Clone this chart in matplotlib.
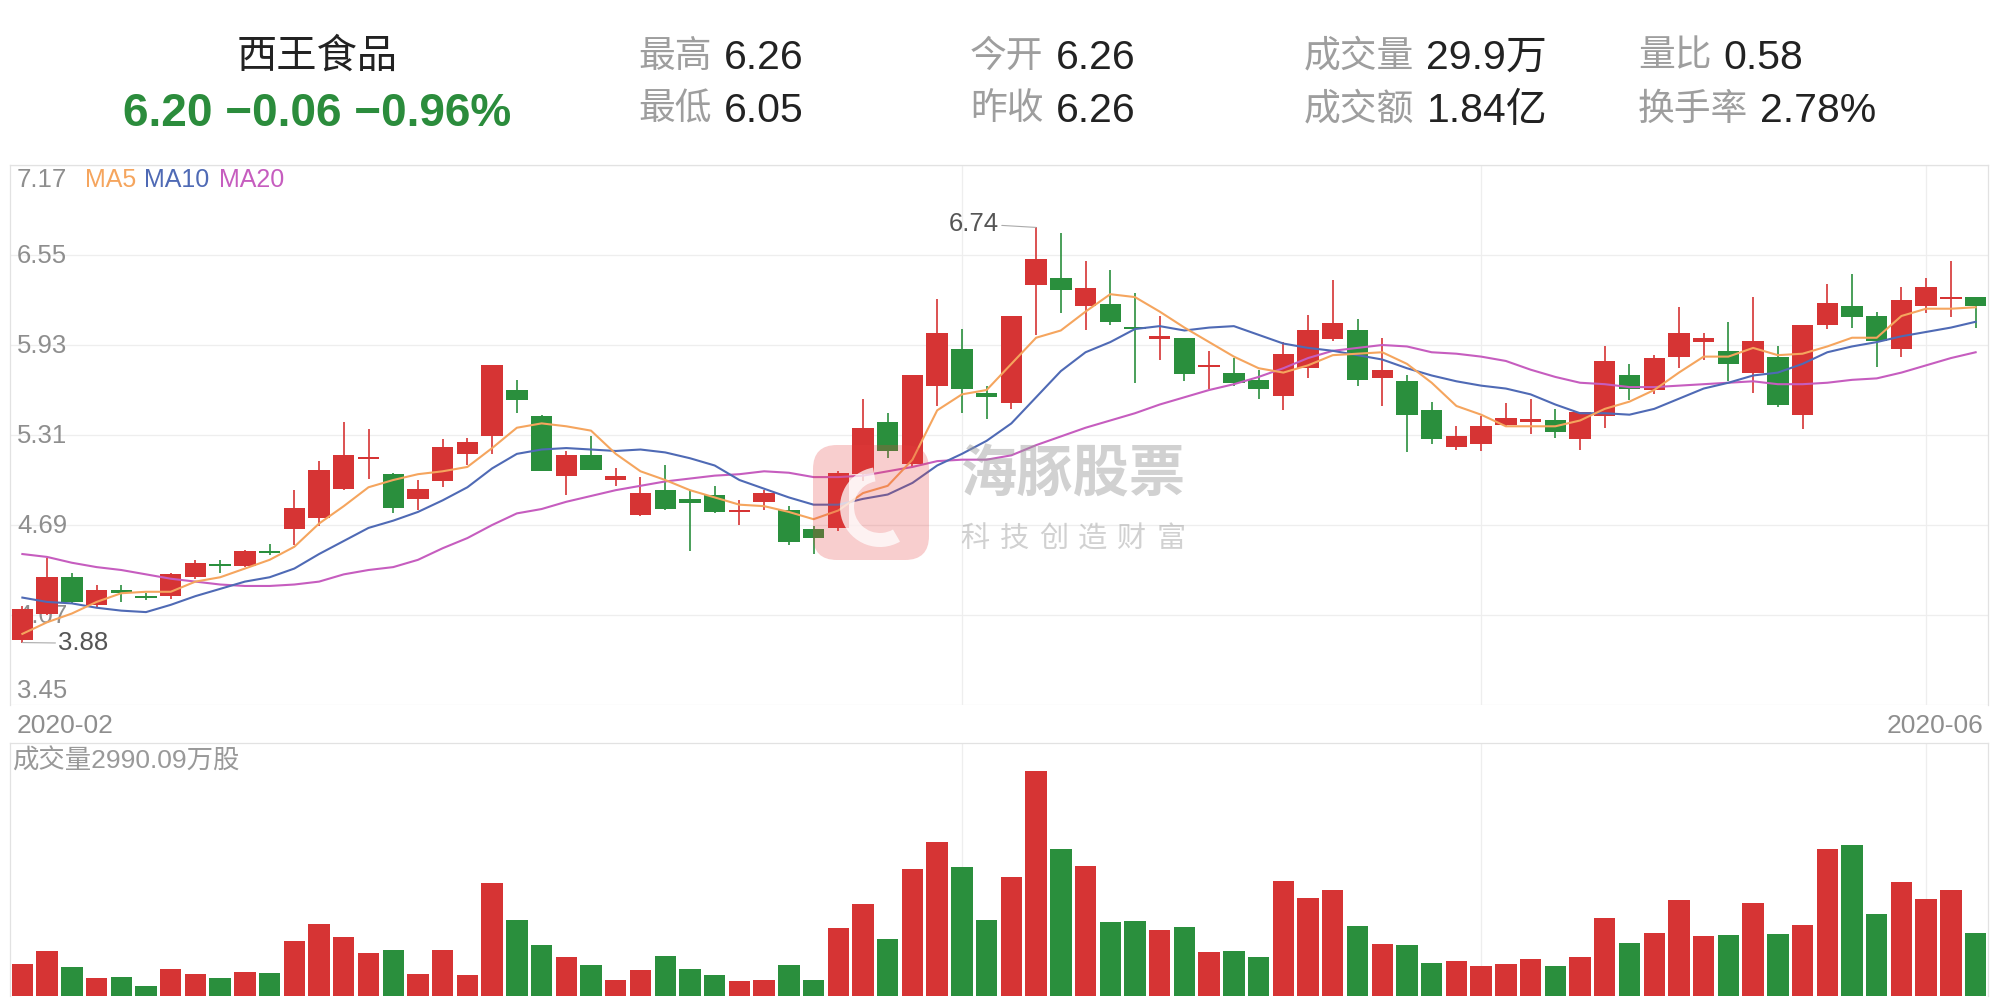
import numpy as np
import matplotlib.pyplot as plt
from matplotlib.patches import FancyBboxPatch, Wedge

plt.rcParams['font.family'] = ['Liberation Sans', 'Noto Sans CJK SC']

# daily candles, 2020-02 .. 2020-06
opens = [3.90, 4.08, 4.33, 4.14, 4.24, 4.20, 4.20, 4.33, 4.42, 4.41,
         4.51, 4.66, 4.74, 4.94, 5.145, 5.04, 4.87, 4.99, 5.18, 5.30,
         5.62, 5.44, 5.03, 5.17, 5.00, 4.76, 4.93, 4.87, 4.90, 4.78,
         4.85, 4.79, 4.66, 4.67, 5.04, 5.40, 5.11, 5.65, 5.90, 5.60,
         5.53, 6.34, 6.39, 6.20, 6.21, 6.05, 5.97, 5.98, 5.78, 5.74,
         5.69, 5.58, 5.77, 5.97, 6.03, 5.70, 5.68, 5.48, 5.23, 5.25,
         5.38, 5.40, 5.41, 5.28, 5.44, 5.72, 5.62, 5.85, 5.95, 5.89,
         5.74, 5.85, 5.45, 6.07, 6.20, 6.13, 5.90, 6.20, 6.25, 6.26]
highs = [4.13, 4.46, 4.36, 4.28, 4.28, 4.22, 4.36, 4.45, 4.45, 4.52,
         4.56, 4.93, 5.13, 5.40, 5.35, 5.05, 5.00, 5.28, 5.29, 5.79,
         5.69, 5.45, 5.20, 5.30, 5.08, 5.02, 5.10, 4.93, 4.96, 4.86,
         4.93, 4.82, 4.68, 5.06, 5.56, 5.46, 5.72, 6.25, 6.04, 5.65,
         6.13, 6.74, 6.70, 6.51, 6.45, 6.29, 6.13, 5.98, 5.89, 5.84,
         5.76, 5.95, 6.14, 6.38, 6.11, 5.98, 5.72, 5.54, 5.37, 5.44,
         5.53, 5.56, 5.49, 5.47, 5.92, 5.80, 5.86, 6.19, 6.01, 6.09,
         6.26, 5.92, 6.07, 6.35, 6.42, 6.16, 6.33, 6.39, 6.51, 6.26]
lows = [3.88, 4.07, 4.15, 4.12, 4.16, 4.17, 4.18, 4.32, 4.36, 4.40,
        4.48, 4.55, 4.68, 4.93, 5.01, 4.77, 4.79, 4.95, 5.10, 5.18,
        5.46, 5.06, 4.90, 5.07, 4.96, 4.75, 4.79, 4.51, 4.77, 4.69,
        4.79, 4.55, 4.49, 4.65, 4.99, 5.15, 5.09, 5.51, 5.46, 5.42,
        5.49, 6.00, 6.15, 6.03, 6.07, 5.67, 5.83, 5.68, 5.63, 5.65,
        5.56, 5.48, 5.70, 5.96, 5.65, 5.51, 5.19, 5.25, 5.21, 5.20,
        5.37, 5.32, 5.29, 5.21, 5.36, 5.55, 5.59, 5.77, 5.83, 5.68,
        5.60, 5.50, 5.35, 6.04, 6.05, 5.78, 5.85, 6.15, 6.12, 6.05]
closes = [4.11, 4.33, 4.16, 4.24, 4.22, 4.19, 4.35, 4.43, 4.41, 4.51,
          4.50, 4.81, 5.07, 5.17, 5.155, 4.81, 4.94, 5.23, 5.26, 5.79,
          5.55, 5.06, 5.17, 5.07, 5.03, 4.91, 4.80, 4.84, 4.78, 4.79,
          4.91, 4.57, 4.60, 5.05, 5.36, 5.20, 5.72, 6.01, 5.63, 5.57,
          6.13, 6.52, 6.31, 6.32, 6.09, 6.04, 5.99, 5.73, 5.79, 5.67,
          5.63, 5.87, 6.03, 6.08, 5.69, 5.76, 5.45, 5.28, 5.30, 5.37,
          5.43, 5.42, 5.33, 5.47, 5.82, 5.63, 5.84, 6.01, 5.98, 5.80,
          5.96, 5.52, 6.07, 6.22, 6.12, 5.96, 6.24, 6.33, 6.26, 6.20]

ma5 = [3.94, 4.02, 4.08, 4.16, 4.22, 4.23, 4.23, 4.30, 4.33, 4.39,
       4.45, 4.54, 4.70, 4.82, 4.95, 5.00, 5.04, 5.06, 5.09, 5.22,
       5.36, 5.39, 5.37, 5.34, 5.18, 5.06, 5.00, 4.93, 4.88, 4.83,
       4.82, 4.78, 4.73, 4.79, 4.91, 4.96, 5.14, 5.48, 5.59, 5.62,
       5.80, 5.98, 6.03, 6.16, 6.28, 6.26, 6.16, 6.05, 5.95, 5.85,
       5.77, 5.74, 5.79, 5.86, 5.87, 5.88, 5.80, 5.67, 5.51, 5.45,
       5.37, 5.37, 5.37, 5.41, 5.49, 5.54, 5.62, 5.74, 5.85, 5.85,
       5.91, 5.86, 5.87, 5.92, 5.98, 5.98, 6.13, 6.18, 6.18, 6.19]
ma10 = [4.19, 4.16, 4.15, 4.12, 4.10, 4.09, 4.14, 4.20, 4.25, 4.30,
        4.33, 4.39, 4.49, 4.58, 4.67, 4.72, 4.78, 4.86, 4.95, 5.08,
        5.18, 5.21, 5.22, 5.21, 5.20, 5.21, 5.19, 5.15, 5.10, 5.00,
        4.94, 4.88, 4.83, 4.83, 4.87, 4.90, 4.98, 5.10, 5.18, 5.27,
        5.39, 5.57, 5.75, 5.88, 5.95, 6.04, 6.06, 6.03, 6.05, 6.06,
        6.00, 5.94, 5.91, 5.89, 5.86, 5.83, 5.77, 5.72, 5.68, 5.65,
        5.63, 5.59, 5.52, 5.46, 5.46, 5.45, 5.49, 5.56, 5.63, 5.67,
        5.72, 5.74, 5.80, 5.88, 5.92, 5.95, 5.99, 6.02, 6.05, 6.09]
ma20 = [4.49, 4.47, 4.43, 4.40, 4.38, 4.35, 4.32, 4.30, 4.28, 4.27,
        4.27, 4.28, 4.30, 4.35, 4.38, 4.40, 4.45, 4.53, 4.60, 4.69,
        4.77, 4.80, 4.85, 4.89, 4.93, 4.96, 4.99, 5.01, 5.03, 5.04,
        5.06, 5.05, 5.02, 5.02, 5.03, 5.06, 5.09, 5.13, 5.14, 5.14,
        5.17, 5.24, 5.30, 5.36, 5.41, 5.46, 5.52, 5.57, 5.62, 5.66,
        5.71, 5.77, 5.84, 5.89, 5.91, 5.93, 5.92, 5.88, 5.87, 5.85,
        5.82, 5.76, 5.71, 5.67, 5.66, 5.64, 5.64, 5.65, 5.66, 5.67,
        5.68, 5.66, 5.66, 5.67, 5.69, 5.70, 5.74, 5.79, 5.84, 5.88]

# volume in 万股
volumes = [1512, 2146, 1383, 858, 906, 477, 1302, 1063, 873, 1145,
           1097, 2623, 3448, 2814, 2065, 2194, 1063, 2194, 1016, 5389,
           3624, 2432, 1860, 1478, 763, 1240, 1908, 1302, 1001, 715,
           763, 1478, 763, 3243, 4402, 2718, 6057, 7344, 6152, 3624,
           5675, 10730, 7010, 6200, 3529, 3577, 3148, 3291, 2098, 2146,
           1860, 5484, 4674, 5055, 3338, 2480, 2432, 1574, 1669, 1431,
           1526, 1765, 1431, 1860, 3720, 2528, 3004, 4578, 2861, 2909,
           4435, 2957, 3386, 7010, 7201, 3911, 5437, 4626, 5055, 2990.09]

price_ticks = [3.45, 4.07, 4.69, 5.31, 5.93, 6.55, 7.17]
month_starts = [38, 59, 77]
date_first, date_last = '2020-02', '2020-06'

stock_name = '西王食品'
quote_line = '6.20 \u22120.06 \u22120.96%'
quote_labels = [['最高', '最低'], ['今开', '昨收'], ['成交量', '成交额'], ['量比', '换手率']]
quote_values = [['6.26', '6.05'], ['6.26', '6.26'], ['29.9万', '1.84亿'], ['0.58', '2.78%']]

RED = '#d63434'
GREEN = '#2a8f3d'
C_MA5, C_MA10, C_MA20 = '#f5a55e', '#4f6ab5', '#c65dbf'
GRID = '#eeeeee'
EDGE = '#e2e2e2'

W, H = 2001, 999
fig = plt.figure(figsize=(W / 100, H / 100), dpi=100)


def box(l, t, r, b):
    return [l / W, 1 - b / H, (r - l) / W, (b - t) / H]


ax = fig.add_axes(box(10, 165, 1988, 705))
axv = fig.add_axes(box(10, 743, 1988, 996))

n = len(closes)
x = np.arange(n)
o = np.array(opens)
c = np.array(closes)
colors = np.where(c >= o, RED, GREEN)

for a in (ax, axv):
    a.set_xlim(-0.5, n - 0.5)
    a.set_xticks(month_starts)
    a.tick_params(length=0, labelbottom=False, labelleft=False)
    a.grid(axis='x', color=GRID, lw=0.9)
    a.set_axisbelow(True)
    a.spines['bottom'].set_visible(False)
    for s in ('left', 'right', 'top'):
        a.spines[s].set_color(EDGE)
        a.spines[s].set_linewidth(0.9)

# price panel
ax.set_ylim(price_ticks[0], price_ticks[-1])
ax.set_yticks(price_ticks)
ax.grid(axis='y', color=GRID, lw=0.9)

ax.vlines(x, lows, highs, colors=colors, lw=1.2, zorder=3)
body = np.maximum(np.abs(c - o), 0.012)
ax.bar(x, body, bottom=np.minimum(o, c), width=0.866, color=colors, zorder=4)

ax.plot(x, ma20, color=C_MA20, lw=1.5, zorder=5)
ax.plot(x, ma10, color=C_MA10, lw=1.5, zorder=5)
ax.plot(x, ma5, color=C_MA5, lw=1.5, zorder=5)

for t in price_ticks:
    if t == price_ticks[-1]:
        dy = -22
    elif t == price_ticks[0]:
        dy = 7
    else:
        dy = -8
    ax.annotate(f'{t:.2f}', xy=(0, t), xycoords=('axes fraction', 'data'),
                xytext=(7, dy), textcoords='offset pixels', fontsize=18.5,
                color='#8e8e8e', ha='left', va='baseline', zorder=2)

# legend text
for label, col, px in (('MA5', C_MA5, 85), ('MA10', C_MA10, 144), ('MA20', C_MA20, 219)):
    fig.text(px / W, 1 - 187 / H, label, color=col, fontsize=18, ha='left', va='baseline')

# high / low markers
i_hi = int(np.argmax(highs))
i_lo = int(np.argmin(lows))
ax.annotate(f'{highs[i_hi]:.2f}', xy=(i_hi, highs[i_hi]), xytext=(i_hi - 1.5, highs[i_hi] + 0.025),
            fontsize=18.5, color='#555555', ha='right', va='center', zorder=6,
            arrowprops=dict(arrowstyle='-', color='#aaaaaa', lw=0.8, shrinkA=0, shrinkB=0))
ax.annotate(f'{lows[i_lo]:.2f}', xy=(i_lo, lows[i_lo]), xytext=(i_lo + 1.45, lows[i_lo] - 0.005),
            fontsize=18.5, color='#555555', ha='left', va='center', zorder=6,
            arrowprops=dict(arrowstyle='-', color='#aaaaaa', lw=0.8, shrinkA=0, shrinkB=0))

# date labels
fig.text(17 / W, 1 - 733 / H, date_first, fontsize=19, color='#8e8e8e', ha='left', va='baseline')
fig.text(1983 / W, 1 - 733 / H, date_last, fontsize=19, color='#8e8e8e', ha='right', va='baseline')

# volume panel
axv.set_ylim(0, 12066)
axv.set_yticks([])
axv.bar(x, volumes, width=0.866, color=colors, zorder=3)
fig.text(12 / W, 1 - 761 / H, f'成交量{volumes[-1]:.2f}万股', fontsize=19,
         color='#999999', ha='left', va='center')

# header
fig.text(317 / W, 1 - 57 / H, stock_name, fontsize=29, color='#222222', ha='center', va='center')
fig.text(317 / W, 1 - 114 / H, quote_line, fontsize=33, color='#2b8c3c', fontweight='bold',
         ha='center', va='center')
col_x = [638, 970, 1304, 1638]
row_y = [57, 110]
for cx, labs, vals in zip(col_x, quote_labels, quote_values):
    for ry, lab, val in zip(row_y, labs, vals):
        fig.text(cx / W, 1 - ry / H, lab, fontsize=26.5, color='#9e9e9e', ha='left', va='center')
        vx = cx + len(lab) * 36.8 + 12
        fig.text(vx / W, 1 - (ry + 1) / H, val, fontsize=29.5, color='#222222', ha='left',
                 va='center')

# watermark
logo = FancyBboxPatch((8.13, 4.39), 1.16, 1.15, boxstyle='round,pad=0,rounding_size=0.24',
                      transform=fig.dpi_scale_trans, facecolor='#e63c3c', edgecolor='none',
                      alpha=0.25, zorder=10)
fig.add_artist(logo)
fig.add_artist(Wedge((8.80, 4.92), 0.40, 100, 300, width=0.14, transform=fig.dpi_scale_trans,
                     facecolor='white', edgecolor='none', alpha=0.75, zorder=11))
fig.text(1073 / W, 1 - 477 / H, '海豚股票', fontsize=40.5, fontweight='bold', color='#999999',
         alpha=0.45, ha='center', va='center', zorder=10)
for k, ch in enumerate('科技创造财富'):
    fig.text((975 + k * 39.2) / W, 1 - 539 / H, ch, fontsize=21, color='#999999', alpha=0.45,
             ha='center', va='center', zorder=10)

fig.savefig('out.png', dpi=100)
